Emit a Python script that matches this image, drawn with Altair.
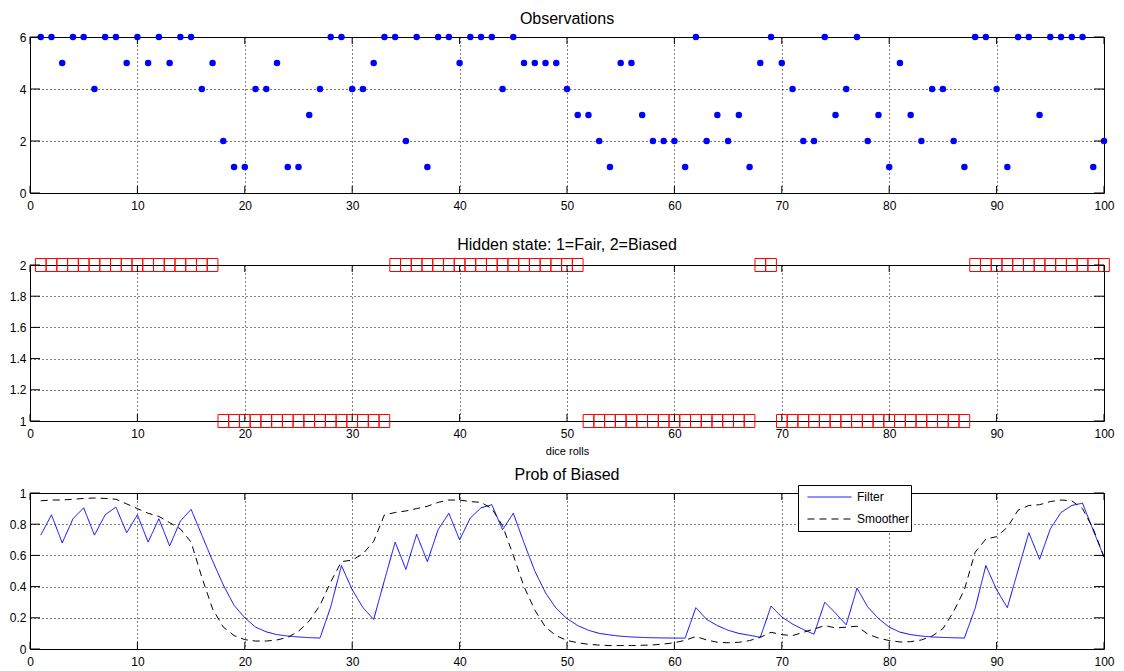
import altair as alt
import pandas as pd

# ---------------- data ----------------
x_rolls = list(range(1, 101))

observations = [6, 6, 5, 6, 6, 4, 6, 6, 5, 6,
                5, 6, 5, 6, 6, 4, 5, 2, 1, 1,
                4, 4, 5, 1, 1, 3, 4, 6, 6, 4,
                4, 5, 6, 6, 2, 6, 1, 6, 6, 5,
                6, 6, 6, 4, 6, 5, 5, 5, 5, 4,
                3, 3, 2, 1, 5, 5, 3, 2, 2, 2,
                1, 6, 2, 3, 2, 3, 1, 5, 6, 5,
                4, 2, 2, 6, 3, 4, 6, 2, 3, 1,
                5, 3, 2, 4, 4, 2, 1, 6, 6, 4,
                1, 6, 6, 3, 6, 6, 6, 6, 1, 2]

hidden_state = [2] * 17 + [1] * 16 + [2] * 18 + [1] * 16 + [2] * 2 + [1] * 18 + [2] * 13

filter_prob = [0.73, 0.86, 0.68, 0.835, 0.905, 0.73, 0.86, 0.91, 0.745, 0.86,
               0.685, 0.835, 0.66, 0.82, 0.895, 0.73, 0.565, 0.41, 0.28, 0.20,
               0.14, 0.11, 0.092, 0.083, 0.077, 0.073, 0.07, 0.27, 0.535, 0.38,
               0.265, 0.19, 0.44, 0.685, 0.51, 0.735, 0.56, 0.765, 0.87, 0.70,
               0.84, 0.905, 0.925, 0.765, 0.87, 0.68, 0.50, 0.36, 0.26, 0.195,
               0.15, 0.12, 0.10, 0.09, 0.082, 0.077, 0.074, 0.072, 0.071, 0.07,
               0.07, 0.265, 0.19, 0.15, 0.12, 0.10, 0.088, 0.075, 0.275, 0.205,
               0.16, 0.125, 0.095, 0.30, 0.23, 0.155, 0.39, 0.27, 0.195, 0.14,
               0.108, 0.092, 0.083, 0.077, 0.074, 0.072, 0.07, 0.26, 0.535, 0.38,
               0.265, 0.505, 0.745, 0.575, 0.77, 0.875, 0.92, 0.935, 0.76, 0.59]

smoother_prob = [0.95, 0.955, 0.955, 0.96, 0.965, 0.968, 0.965, 0.96, 0.93, 0.90,
                 0.87, 0.85, 0.81, 0.77, 0.685, 0.46, 0.257, 0.14, 0.086, 0.06,
                 0.051, 0.051, 0.058, 0.075, 0.113, 0.18, 0.28, 0.43, 0.56, 0.57,
                 0.61, 0.69, 0.86, 0.875, 0.885, 0.90, 0.915, 0.94, 0.955, 0.955,
                 0.945, 0.94, 0.90, 0.79, 0.60, 0.40, 0.25, 0.14, 0.085, 0.055,
                 0.04, 0.03, 0.025, 0.022, 0.022, 0.022, 0.024, 0.026, 0.032, 0.04,
                 0.056, 0.08, 0.058, 0.043, 0.04, 0.043, 0.054, 0.075, 0.107, 0.092,
                 0.086, 0.107, 0.128, 0.15, 0.135, 0.14, 0.146, 0.096, 0.07, 0.054,
                 0.045, 0.047, 0.058, 0.083, 0.13, 0.24, 0.38, 0.62, 0.705, 0.72,
                 0.78, 0.89, 0.92, 0.925, 0.945, 0.955, 0.95, 0.90, 0.77, 0.59]

x_ticks = [0, 10, 20, 30, 40, 50, 60, 70, 80, 90, 100]
obs_yticks = [0, 2, 4, 6]
state_yticks = [1, 1.2, 1.4, 1.6, 1.8, 2]
prob_yticks = [0, 0.2, 0.4, 0.6, 0.8, 1]
series_names = ["Filter", "Smoother"]

# ---------------- layout / style ----------------
W, H = 1074, 156
GAP = 72
FONT = "Liberation Sans"
BLUE = "#0000ff"
RED = "#ff0000"

xscale = alt.Scale(domain=[0, 100], nice=False, zero=False)


def make_xaxis(title=None):
    if title:
        return alt.Axis(values=x_ticks, title=title, titleFont=FONT, titleFontSize=11,
                        titleFontWeight="normal", titleColor="black", titlePadding=6)
    return alt.Axis(values=x_ticks, title=None)


def make_yaxis(vals):
    return alt.Axis(values=vals, title=None, format="~g")


def frame_ticks(xaxis, yaxis, ysc):
    """Inward MATLAB-style ticks on all four sides, placed through the scales."""
    xs = pd.DataFrame({"t": x_ticks})
    ys = pd.DataFrame({"t": yaxis.values})
    bot = alt.Chart(xs).mark_rule(color="black", strokeWidth=1).encode(
        x=alt.X("t:Q", scale=xscale, axis=xaxis), y=alt.value(H), y2=alt.value(H - 7))
    top = alt.Chart(xs).mark_rule(color="black", strokeWidth=1).encode(
        x=alt.X("t:Q", scale=xscale, axis=xaxis), y=alt.value(0), y2=alt.value(7))
    left = alt.Chart(ys).mark_rule(color="black", strokeWidth=1).encode(
        y=alt.Y("t:Q", scale=ysc, axis=yaxis), x=alt.value(0), x2=alt.value(10))
    right = alt.Chart(ys).mark_rule(color="black", strokeWidth=1).encode(
        y=alt.Y("t:Q", scale=ysc, axis=yaxis), x=alt.value(W), x2=alt.value(W - 10))
    return [bot, top, left, right]


# ---------------- panel 1: observations ----------------
xa1, ya1 = make_xaxis(), make_yaxis(obs_yticks)
ysc1 = alt.Scale(domain=[0, 6], nice=False, zero=False)
df_obs = pd.DataFrame({"roll": x_rolls, "obs": observations})
pts = alt.Chart(df_obs).mark_circle(size=42, color=BLUE, opacity=1).encode(
    x=alt.X("roll:Q", scale=xscale, axis=xa1),
    y=alt.Y("obs:Q", scale=ysc1, axis=ya1),
)
p1 = alt.layer(pts, *frame_ticks(xa1, ya1, ysc1)).properties(
    width=W, height=H, title="Observations")

# ---------------- panel 2: hidden state ----------------
xa2, ya2 = make_xaxis("dice rolls"), make_yaxis(state_yticks)
ysc2 = alt.Scale(domain=[1, 2], nice=False, zero=False)
df_state = pd.DataFrame({"roll": x_rolls, "state": hidden_state})
rect_shape = "M-0.82,-1L0.82,-1L0.82,1L-0.82,1Z"
sq = alt.Chart(df_state).mark_point(shape=rect_shape, size=169, filled=False,
                                    color=RED, strokeWidth=1, opacity=1).encode(
    x=alt.X("roll:Q", scale=xscale, axis=xa2),
    y=alt.Y("state:Q", scale=ysc2, axis=ya2),
)
p2 = alt.layer(sq, *frame_ticks(xa2, ya2, ysc2)).properties(
    width=W, height=H, title="Hidden state: 1=Fair, 2=Biased")

# ---------------- panel 3: probability of biased ----------------
xa3, ya3 = make_xaxis(), make_yaxis(prob_yticks)
ysc3 = alt.Scale(domain=[0, 1], nice=False, zero=False)
df_prob = pd.DataFrame({
    "roll": x_rolls * 2,
    "p": filter_prob + smoother_prob,
    "series": [series_names[0]] * 100 + [series_names[1]] * 100,
})
# legend is lifted to the top-level group: offsets are from panel 1's origin
leg = alt.Legend(orient="none", legendX=768, legendY=-8 + 2 * (H + GAP), title=None,
                 strokeColor="black", fillColor="white", padding=1,
                 symbolType="stroke", symbolSize=1936, symbolStrokeWidth=1,
                 symbolOffset=8, clipHeight=22, rowPadding=0,
                 labelFont=FONT, labelFontSize=12, labelColor="black",
                 labelOffset=5, cornerRadius=0)
lines = alt.Chart(df_prob).mark_line(strokeWidth=1).encode(
    x=alt.X("roll:Q", scale=xscale, axis=xa3),
    y=alt.Y("p:Q", scale=ysc3, axis=ya3),
    color=alt.Color("series:N", scale=alt.Scale(domain=series_names, range=[BLUE, "#000000"]),
                    legend=leg),
    strokeDash=alt.StrokeDash("series:N", scale=alt.Scale(domain=series_names, range=[[1, 0], [7, 5]]),
                              legend=leg),
)
p3 = alt.layer(lines, *frame_ticks(xa3, ya3, ysc3)).properties(
    width=W, height=H, title="Prob of Biased")

chart = alt.vconcat(p1, p2, p3, spacing=GAP, bounds="flush").properties(
    padding={"left": 0, "top": 2, "right": 0, "bottom": 0},
    background="white",
).configure_view(
    stroke="black", strokeWidth=1
).configure_axis(
    labelFont=FONT, labelFontSize=12, labelColor="black", tickSize=0, domain=False,
    grid=True, gridColor="black", gridDash=[1, 3], gridOpacity=1, gridWidth=1,
    labelPadding=4, labelFlush=False,
).configure_axisX(
    labelPadding=7
).configure_title(
    font=FONT, fontSize=16, fontWeight="normal", color="black", offset=4, anchor="middle"
)

chart.save("out.html", embed_options={"renderer": "svg", "actions": False})
